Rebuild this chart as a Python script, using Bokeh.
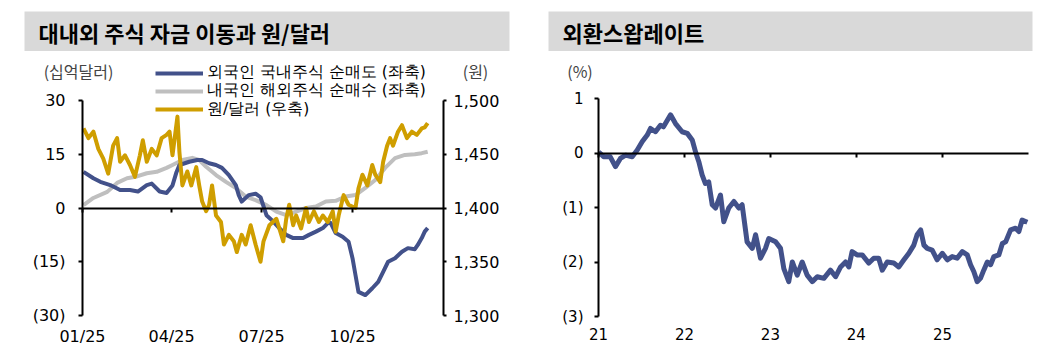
import pandas as pd
from bokeh.plotting import figure
from bokeh.layouts import row, column
from bokeh.models import (Range1d, LinearAxis, DatetimeAxis, FixedTicker, NumeralTickFormatter,
                          DatetimeTickFormatter, Label, Legend, LegendItem)
from bokeh.embed import file_html
from bokeh.resources import INLINE

# ---------------- data ----------------
left_title = "대내외 주식 자금 이동과 원/달러"
right_title = "외환스왑레이트"

foreign_dates = ["2025-01-02","2025-01-12","2025-01-19","2025-01-29","2025-02-08","2025-02-18","2025-02-26",
                 "2025-03-07","2025-03-12","2025-03-20","2025-03-27","2025-04-02","2025-04-06","2025-04-09",
                 "2025-04-19","2025-04-27","2025-05-02","2025-05-09","2025-05-16","2025-05-22","2025-05-29",
                 "2025-06-05","2025-06-08","2025-06-11","2025-06-18","2025-06-25","2025-06-30","2025-07-06",
                 "2025-07-13","2025-07-19","2025-07-26","2025-08-02","2025-08-12","2025-08-18","2025-08-25",
                 "2025-09-01","2025-09-06","2025-09-09","2025-09-14","2025-09-21","2025-09-27","2025-10-01",
                 "2025-10-04","2025-10-07","2025-10-14","2025-10-21","2025-10-27","2025-11-01","2025-11-06",
                 "2025-11-13","2025-11-20","2025-11-26","2025-12-03","2025-12-06","2025-12-10","2025-12-13",
                 "2025-12-16"]
foreign_net_sell = [10.1, 8.3, 7.3, 6.4, 5.0, 5.0, 4.6,
                    6.4, 6.8, 4.6, 4.2, 6.3, 10.0, 12.0,
                    12.9, 13.4, 13.4, 12.5, 12.0, 11.2, 9.2,
                    6.4, 3.6, 1.8, 3.6, 4.0, 3.0, -2.0,
                    -3.8, -5.6, -7.5, -8.4, -8.4, -7.5, -6.6,
                    -5.6, -4.2, -4.2, -7.0, -8.0, -9.4, -14.0,
                    -18.7, -23.4, -24.3, -22.4, -20.6, -17.8, -15.0,
                    -14.0, -12.2, -11.2, -11.5, -10.3, -8.4, -6.6,
                    -5.6]

resident_dates = ["2025-01-02","2025-01-12","2025-01-26","2025-02-05","2025-02-15","2025-02-25","2025-03-07",
                  "2025-03-17","2025-03-27","2025-04-02","2025-04-12","2025-04-22","2025-04-29","2025-05-06",
                  "2025-05-16","2025-05-26","2025-06-05","2025-06-15","2025-06-25","2025-07-06","2025-07-16",
                  "2025-07-26","2025-08-05","2025-08-15","2025-08-25","2025-09-04","2025-09-14","2025-09-24",
                  "2025-10-04","2025-10-14","2025-10-24","2025-11-03","2025-11-13","2025-11-23","2025-12-03",
                  "2025-12-10","2025-12-16"]
resident_net_buy = [0.8, 2.8, 4.5, 7.0, 8.3, 8.8, 9.7,
                    10.1, 11.2, 12.0, 13.4, 14.0, 13.4, 11.5,
                    9.2, 7.3, 5.6, 3.2, 2.2, 0.8, -1.0,
                    -2.0, -1.0, 0.0, 0.4, 1.8, 2.0, 3.2,
                    3.6, 5.6, 7.8, 11.2, 13.9, 14.8, 15.0,
                    15.3, 15.7]

krw_dates = ["2025-01-02","2025-01-07","2025-01-12","2025-01-17","2025-01-22","2025-01-27","2025-02-01",
             "2025-02-05","2025-02-08","2025-02-13","2025-02-18","2025-02-23","2025-02-28","2025-03-03",
             "2025-03-07","2025-03-12","2025-03-17","2025-03-22","2025-03-27","2025-03-30","2025-04-02",
             "2025-04-07","2025-04-09","2025-04-12","2025-04-17","2025-04-21","2025-04-26","2025-04-29",
             "2025-05-02","2025-05-06","2025-05-09","2025-05-12","2025-05-16","2025-05-21","2025-05-24",
             "2025-05-29","2025-06-03","2025-06-06","2025-06-11","2025-06-15","2025-06-20","2025-06-25",
             "2025-06-30","2025-07-03","2025-07-09","2025-07-16","2025-07-19","2025-07-23","2025-07-26",
             "2025-07-29","2025-08-02","2025-08-05","2025-08-10","2025-08-15","2025-08-18","2025-08-23",
             "2025-08-28","2025-09-01","2025-09-06","2025-09-11","2025-09-14","2025-09-17","2025-09-22",
             "2025-09-27","2025-10-04","2025-10-07","2025-10-11","2025-10-16","2025-10-21","2025-10-24",
             "2025-10-29","2025-11-01","2025-11-05","2025-11-08","2025-11-11","2025-11-16","2025-11-20",
             "2025-11-25","2025-11-30","2025-12-05","2025-12-10","2025-12-13","2025-12-16"]
krw_usd = [1474, 1465, 1471, 1455, 1446, 1432, 1458,
           1465, 1443, 1449, 1440, 1429, 1449, 1463,
           1443, 1455, 1449, 1465, 1468, 1471, 1449,
           1485, 1452, 1421, 1434, 1421, 1438, 1421,
           1406, 1397, 1403, 1421, 1393, 1387, 1366,
           1375, 1369, 1359, 1375, 1366, 1384, 1366,
           1350, 1369, 1384, 1390, 1381, 1369, 1390,
           1403, 1384, 1393, 1381, 1400, 1387, 1397,
           1387, 1393, 1387, 1397, 1378, 1393, 1412,
           1403, 1400, 1418, 1431, 1421, 1440, 1431,
           1424, 1443, 1458, 1465, 1458, 1471, 1477,
           1465, 1471, 1468, 1474, 1475, 1479]

swap_dates = ["2021-01-02","2021-01-23","2021-02-20","2021-03-14","2021-04-04","2021-04-26","2021-05-24",
              "2021-06-14","2021-07-06","2021-07-27","2021-08-10","2021-08-31","2021-09-21","2021-10-04",
              "2021-11-03","2021-11-24","2021-12-22",
              "2022-01-13","2022-02-03","2022-02-17","2022-03-03","2022-03-17","2022-03-31","2022-04-14",
              "2022-04-29","2022-05-13","2022-06-03","2022-06-17","2022-07-08","2022-07-30","2022-08-20",
              "2022-09-03","2022-09-24","2022-10-16","2022-10-30","2022-11-20","2022-12-11","2022-12-25",
              "2023-01-23","2023-02-13","2023-02-27","2023-03-20","2023-04-04","2023-04-25","2023-05-16",
              "2023-06-06","2023-06-28","2023-07-19","2023-08-16","2023-09-13","2023-10-05","2023-10-26",
              "2023-11-16","2023-11-30","2023-12-14",
              "2024-01-04","2024-01-26","2024-02-23","2024-03-15","2024-04-05","2024-04-20","2024-05-11",
              "2024-06-08","2024-06-29","2024-07-21","2024-08-11","2024-09-01","2024-09-15","2024-09-30",
              "2024-10-14","2024-10-28","2024-11-18","2024-12-09","2024-12-31",
              "2025-01-21","2025-02-11","2025-03-04","2025-03-26","2025-04-16","2025-04-30","2025-05-14",
              "2025-05-28","2025-06-11","2025-06-25","2025-07-10","2025-07-24","2025-08-07","2025-08-28",
              "2025-09-12","2025-09-26","2025-10-17","2025-11-07","2025-11-21","2025-12-05","2025-12-27"]
swap_rate = [0.02, -0.07, -0.07, -0.25, -0.10, -0.04, -0.07,
             0.05, 0.21, 0.33, 0.45, 0.39, 0.51, 0.48,
             0.70, 0.54, 0.39,
             0.36, 0.24, 0.02, -0.16, -0.40, -0.56, -0.53,
             -0.95, -1.01, -0.77, -1.26, -1.01, -0.89, -1.01,
             -0.95, -1.63, -1.75, -1.50, -1.93, -1.75, -1.57,
             -1.63, -1.75, -2.12, -2.36, -2.00, -2.24, -2.00,
             -2.24, -2.36, -2.27, -2.30, -2.15, -2.27, -2.09,
             -2.00, -2.09, -1.81,
             -1.87, -1.87, -2.02, -1.93, -1.93, -2.15, -2.00,
             -2.02, -2.09, -1.96, -1.84, -1.69, -1.50, -1.41,
             -1.69, -1.75, -1.78, -1.96, -1.84,
             -1.96, -1.90, -1.93, -1.81, -1.87, -2.05, -2.18,
             -2.36, -2.30, -2.15, -2.00, -2.05, -1.90, -1.87,
             -1.66, -1.63, -1.41, -1.38, -1.44, -1.23, -1.27]

left_x_ticks = ["2025-01-01", "2025-04-01", "2025-07-01", "2025-10-01"]
left_y_ticks = [-30, -15, 0, 15, 30]
krw_ticks = [1300, 1350, 1400, 1450, 1500]
right_x_ticks = ["2021-01-01", "2022-01-01", "2023-01-01", "2024-01-01", "2025-01-01"]
right_y_ticks = [-3, -2, -1, 0, 1]

legend_labels = ["외국인 국내주식 순매도 (좌축)", "내국인 해외주식 순매수 (좌축)", "원/달러 (우축)"]

# ---------------- style ----------------
KR = "Noto Sans CJK KR"
NUM = "DejaVu Sans"
BLUE = "#42518A"
GRAY = "#BFBFBF"
GOLD = "#CF9E00"
BAR = "#D9D9D9"
RULE = "#A6A6A6"
DAY_MS = 86400000.0


def ms(s):
    return pd.Timestamp(s).value / 1e6


def header(text, left, right):
    w = 528 - left - right
    h = figure(width=528, height=51, x_range=Range1d(0, w), y_range=Range1d(0, 40),
               output_backend="svg", toolbar_location=None, x_axis_type=None, y_axis_type=None,
               min_border=0, min_border_left=left, min_border_right=right, min_border_top=11,
               min_border_bottom=0, background_fill_color=BAR, border_fill_color="white",
               outline_line_color=None)
    h.add_layout(Label(x=14, y=20, text=text, text_font=KR, text_font_size="22px",
                       text_font_style="bold", text_color="black", text_baseline="middle"))
    return h


def rule(left, right):
    w = 528 - left - right
    r = figure(width=528, height=3, x_range=Range1d(0, w), y_range=Range1d(0, 1),
               output_backend="svg", toolbar_location=None, x_axis_type=None, y_axis_type=None,
               min_border=0, min_border_left=left, min_border_right=right, min_border_top=0,
               min_border_bottom=0, background_fill_color=RULE, border_fill_color="white",
               outline_line_color=None)
    return r


def style_axis(ax, size="16px"):
    ax.axis_line_color = "black"
    ax.axis_line_width = 2
    ax.major_tick_line_color = "black"
    ax.major_tick_line_width = 2
    ax.minor_tick_line_color = None
    ax.major_label_text_font = NUM
    ax.major_label_text_font_size = size
    ax.major_label_text_color = "black"


# ---------------- left chart ----------------
# frame spans the whole panel width (24..509 px) and 51..325 px in height;
# the period 2025-01-01..2026-01-01 sits at 82..443 px, the -30..30 scale at 315..100 px
l_ppd = 361 / 365.0
lx_start = ms("2025-01-01") - 58 / l_ppd * DAY_MS
lx_end = ms("2026-01-01") + 66 / l_ppd * DAY_MS
l_ppu = 215 / 60.0
k_ppu = 215 / 200.0
pl = figure(width=528, height=297, x_axis_type="datetime",
            x_range=Range1d(lx_start, lx_end), y_range=Range1d(-30 - 10 / l_ppu, 30 + 49 / l_ppu),
            output_backend="svg", toolbar_location=None,
            min_border=0, min_border_left=24, min_border_right=19, min_border_top=0, min_border_bottom=23,
            outline_line_color=None, background_fill_color="white", border_fill_color="white")
pl.grid.visible = False
pl.extra_y_ranges = {"krw": Range1d(1300 - 10 / k_ppu, 1500 + 49 / k_ppu)}

xa = pl.xaxis[0]
xa.ticker = FixedTicker(ticks=[ms(t) for t in left_x_ticks])
xa.formatter = DatetimeTickFormatter(days="%m/%y", months="%m/%y", years="%m/%y")
style_axis(xa)
xa.axis_line_color = None
xa.major_tick_line_color = None
xa.major_tick_out = 0
xa.major_tick_in = 0
xa.major_label_standoff = 1

ya = pl.yaxis[0]
ya.fixed_location = ms("2025-01-01")
ya.ticker = FixedTicker(ticks=left_y_ticks)
ya.formatter = NumeralTickFormatter(format="(0)")
ya.bounds = (-30, 30)
style_axis(ya)
ya.major_tick_in = 0
ya.major_tick_out = 4
ya.major_label_standoff = 13

yr = LinearAxis(y_range_name="krw", ticker=FixedTicker(ticks=krw_ticks), fixed_location=ms("2026-01-01"),
                formatter=NumeralTickFormatter(format="0,0"), bounds=(1300, 1500))
style_axis(yr)
yr.major_tick_in = 0
yr.major_tick_out = 3
yr.major_label_standoff = 7
pl.add_layout(yr, "right")

zl = DatetimeAxis(fixed_location=0, ticker=FixedTicker(ticks=[ms(t) for t in left_x_ticks]),
                  bounds=(ms("2025-01-01"), ms("2026-01-01")))
style_axis(zl)
zl.major_tick_in = 0
zl.major_tick_out = 4
zl.major_label_text_font_size = "0px"
zl.major_label_text_alpha = 0
pl.add_layout(zl, "below")

r_gray = pl.line(pd.to_datetime(resident_dates), resident_net_buy, line_color=GRAY, line_width=4,
                 line_join="round")
r_blue = pl.line(pd.to_datetime(foreign_dates), foreign_net_sell, line_color=BLUE, line_width=4,
                 line_join="round")
r_gold = pl.line(pd.to_datetime(krw_dates), krw_usd, line_color=GOLD, line_width=4,
                 line_join="round", y_range_name="krw")

# one legend box per entry so that the row spacing can follow the reference
for lab, rend, vy in zip(legend_labels, [r_blue, r_gray, r_gold], [242, 223.6, 205.2]):
    pl.add_layout(Legend(items=[LegendItem(label=lab, renderers=[rend])],
                         location=(131, vy), orientation="vertical", padding=0, margin=0, spacing=0,
                         glyph_width=48, glyph_height=18, label_height=18, label_standoff=4,
                         label_text_font="DejaVu Sans", label_text_font_size="15.5px",
                         label_text_color="black", background_fill_alpha=0, border_line_color=None))

pl.add_layout(Label(x=ms("2025-01-01"), y=30 + 30 / l_ppu, x_offset=-4, text="(십억달러)", text_font=KR,
                    text_font_size="16px", text_align="center", text_baseline="middle"))
pl.add_layout(Label(x=ms("2026-01-01"), y=30 + 30 / l_ppu, x_offset=32, text="(원)", text_font=KR,
                    text_font_size="16px", text_align="center", text_baseline="middle"))

# ---------------- right chart ----------------
# frame spans 548..1032 px and 51..326 px; 2021-01-01..2026-01-01 sits at 598..1028 px,
# the -3..1 scale at 316..98 px
r_ppd = 430 / 1826.0
rx_start = ms("2021-01-01") - 50 / r_ppd * DAY_MS
rx_end = ms("2026-01-01") + 4 / r_ppd * DAY_MS
r_ppu = 54.5
pr = figure(width=528, height=297, x_axis_type="datetime",
            x_range=Range1d(rx_start, rx_end), y_range=Range1d(-3 - 10 / r_ppu, 1 + 47 / r_ppu),
            output_backend="svg", toolbar_location=None,
            min_border=0, min_border_left=20, min_border_right=24, min_border_top=0, min_border_bottom=22,
            outline_line_color=None, background_fill_color="white", border_fill_color="white")
pr.grid.visible = False

rxa = pr.xaxis[0]
rxa.ticker = FixedTicker(ticks=[ms(t) for t in right_x_ticks])
rxa.formatter = DatetimeTickFormatter(days="%y", months="%y", years="%y")
style_axis(rxa, "15px")
rxa.axis_line_color = None
rxa.major_tick_line_color = None
rxa.major_tick_out = 0
rxa.major_tick_in = 0
rxa.major_label_standoff = 1

rya = pr.yaxis[0]
rya.fixed_location = ms("2021-01-01")
rya.ticker = FixedTicker(ticks=right_y_ticks)
rya.formatter = NumeralTickFormatter(format="(0)")
rya.bounds = (-3, 1)
style_axis(rya, "15px")
rya.major_tick_in = 0
rya.major_tick_out = 4
rya.major_label_standoff = 11

zr = DatetimeAxis(fixed_location=0, ticker=FixedTicker(ticks=[ms(t) for t in right_x_ticks]),
                  bounds=(ms("2021-01-01"), ms("2026-01-01")))
style_axis(zr)
zr.major_tick_in = 0
zr.major_tick_out = 4
zr.major_label_text_font_size = "0px"
zr.major_label_text_alpha = 0
pr.add_layout(zr, "below")

pr.line(pd.to_datetime(swap_dates), swap_rate, line_color=BLUE, line_width=5, line_join="round")

pr.add_layout(Label(x=ms("2021-01-01"), y=1 + 28 / r_ppu, x_offset=-18.5, text="(%)", text_font=KR,
                    text_font_size="16px", text_align="center", text_baseline="middle"))

layout = row(column(header(left_title, 24, 19), pl, rule(24, 19)),
             column(header(right_title, 20, 24), pr, rule(20, 24)))

open("out.html", "w").write(file_html(layout, INLINE))
